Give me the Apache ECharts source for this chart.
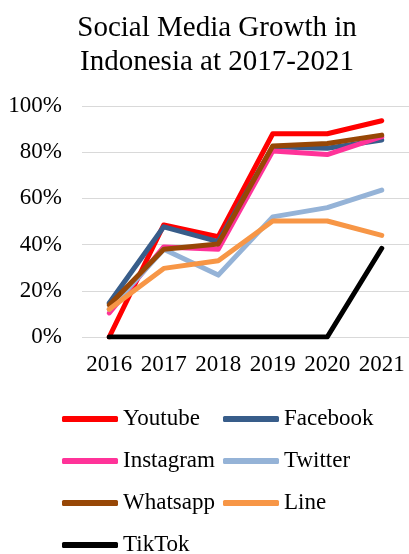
<!DOCTYPE html>
<html>
<head>
<meta charset="utf-8">
<script src="https://cdn.jsdelivr.net/npm/echarts@6/dist/echarts.min.js"></script>
<style>
  html, body { margin: 0; padding: 0; background: #fff; }
  #chart { width: 409px; height: 554px; }
</style>
</head>
<body>
<div id="chart"></div>
<script>
var years = ['2016', '2017', '2018', '2019', '2020', '2021'];

var youtube   = [0, 48.5, 43.4, 88, 88, 93.6];
var facebook  = [14.7, 47.7, 41.3, 82.4, 81.7, 85.3];
var instagram = [10.4, 39, 38, 80.5, 79, 86.7];
var twitter   = [12, 38, 26.8, 52, 56, 63.6];
var whatsapp  = [13.9, 38, 40.3, 82.7, 83.8, 87.4];
var line      = [12, 29.7, 33, 50.2, 50.2, 44];
var tiktok    = [0, 0, 0, 0, 0, 38.4];

var names  = ['Youtube', 'Facebook', 'Instagram', 'Twitter', 'Whatsapp', 'Line', 'TikTok'];
var values = [youtube, facebook, instagram, twitter, whatsapp, line, tiktok];
var colors = ['#FF0000', '#385D8A', '#FF3399', '#95B3D7', '#974706', '#F79646', '#000000'];

var font = 'Liberation Serif, Times New Roman, serif';

var chart = echarts.init(document.getElementById('chart'));

var legendBase = {
    orient: 'vertical',
    top: 402,
    height: 220,
    icon: 'roundRect',
    itemWidth: 56,
    itemHeight: 6,
    itemGap: 18,
    textStyle: { fontFamily: font, fontSize: 23, color: '#000', lineHeight: 24 }
};

chart.setOption({
    animation: false,
    color: colors,
    title: {
        text: 'Social Media Growth in\nIndonesia at 2017-2021',
        left: 212,
        textAlign: 'center',
        top: 6,
        textStyle: { fontFamily: font, fontSize: 29, fontWeight: 'normal', color: '#000', lineHeight: 34 }
    },
    legend: [
        Object.assign({ left: 57, data: ['Youtube', 'Instagram', 'Whatsapp', 'TikTok'] }, legendBase),
        Object.assign({ left: 218, data: ['Facebook', 'Twitter', 'Line'] }, legendBase)
    ],
    grid: { left: 82, top: 106, width: 333, height: 231 },
    xAxis: {
        type: 'category',
        data: years,
        boundaryGap: true,
        axisLine: { show: false },
        axisTick: { show: false },
        axisLabel: { fontFamily: font, fontSize: 23, color: '#000', margin: 16, interval: 0, hideOverlap: false }
    },
    yAxis: {
        type: 'value',
        min: 0,
        max: 100,
        interval: 20,
        axisLine: { show: false },
        axisTick: { show: false },
        axisLabel: { fontFamily: font, fontSize: 23, color: '#000', margin: 20, formatter: '{value}%' },
        splitLine: { lineStyle: { color: '#D9D9D9', width: 1 } }
    },
    series: names.map(function (n, i) {
        return {
            name: n,
            type: 'line',
            data: values[i],
            symbol: 'none',
            lineStyle: { width: 5, color: colors[i], cap: 'round', join: 'round' },
            itemStyle: { color: colors[i] }
        };
    })
});
</script>
</body>
</html>
